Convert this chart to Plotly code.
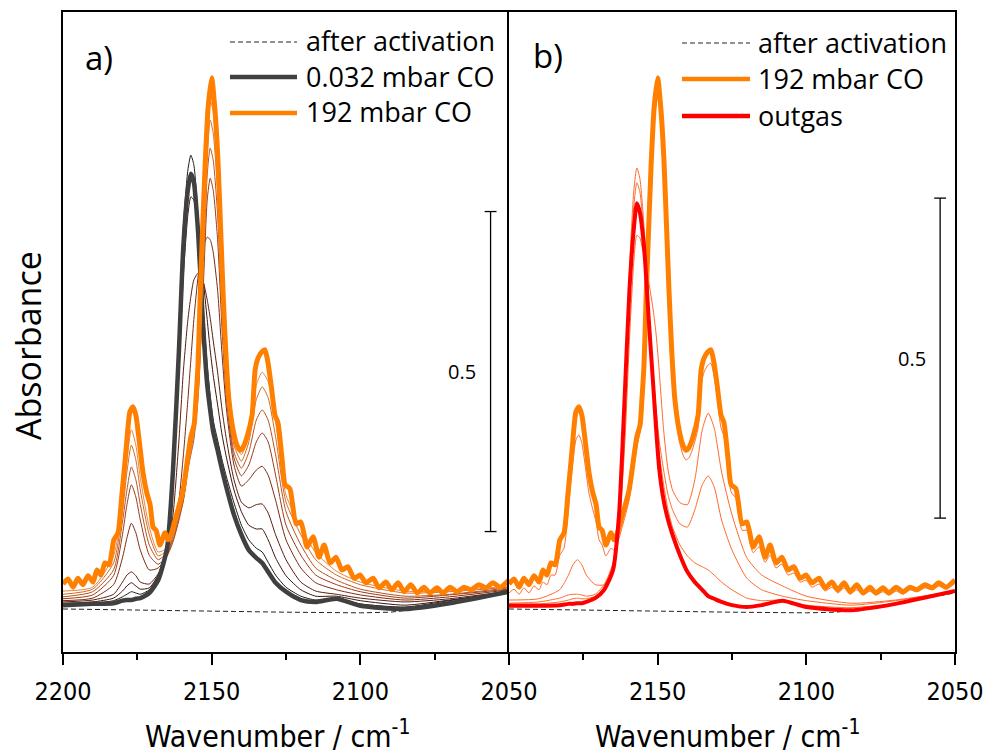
import plotly.graph_objects as go

# ---------------- data (absorbance) ----------------
# fine wavenumber grid for the 192 mbar spectrum (keeps the gas-phase CO rotational wiggles)
W_O = [2200.0, 2198.3, 2196.6, 2195.0, 2193.3, 2191.6, 2189.9, 2188.6, 2187.2, 2185.9,
       2184.5, 2182.9, 2181.5, 2180.2, 2178.8, 2177.5, 2176.5, 2175.5, 2174.4, 2173.1,
       2171.8, 2170.7, 2169.7, 2168.7, 2167.4, 2165.7, 2164.7, 2163.7, 2162.0, 2159.6,
       2158.0, 2157.0, 2155.9, 2155.3, 2154.6, 2153.9, 2153.3, 2152.2, 2151.2, 2150.0,
       2148.9, 2147.9, 2146.9, 2146.2, 2145.2, 2144.2, 2142.8, 2141.5, 2140.5, 2139.5,
       2138.1, 2136.4, 2135.4, 2134.4, 2133.1, 2132.1, 2131.1, 2130.0, 2128.7, 2127.7,
       2126.3, 2125.3, 2123.7, 2121.6, 2120.0, 2117.9, 2115.9, 2113.9, 2112.2, 2110.2,
       2108.2, 2106.2, 2104.2, 2102.1, 2100.1, 2098.1, 2095.7, 2093.7, 2091.4, 2089.4,
       2087.3, 2085.3, 2083.0, 2080.9, 2078.6, 2076.6, 2074.2, 2072.2, 2069.8, 2067.5,
       2065.1, 2062.8, 2060.1, 2057.7, 2055.4, 2053.0, 2050.3, 2050.0]

CO_192 = [0.039, 0.047, 0.034, 0.048, 0.038, 0.052, 0.042, 0.061, 0.053, 0.072,
          0.069, 0.108, 0.119, 0.178, 0.248, 0.308, 0.316, 0.303, 0.264, 0.213,
          0.181, 0.163, 0.128, 0.123, 0.100, 0.119, 0.108, 0.116, 0.144, 0.186,
          0.238, 0.269, 0.288, 0.327, 0.381, 0.483, 0.561, 0.694, 0.783, 0.830,
          0.780, 0.702, 0.584, 0.498, 0.397, 0.327, 0.280, 0.256, 0.248, 0.252,
          0.269, 0.303, 0.373, 0.392, 0.402, 0.405, 0.386, 0.350, 0.303, 0.291,
          0.233, 0.194, 0.188, 0.133, 0.136, 0.097, 0.113, 0.081, 0.100, 0.072,
          0.081, 0.061, 0.066, 0.048, 0.053, 0.041, 0.048, 0.033, 0.042, 0.030,
          0.041, 0.027, 0.038, 0.025, 0.034, 0.025, 0.033, 0.025, 0.034, 0.027,
          0.034, 0.030, 0.038, 0.033, 0.041, 0.034, 0.044, 0.045]

OUTGAS_1 = [0.025, 0.031, 0.023, 0.033, 0.025, 0.036, 0.030, 0.042, 0.038, 0.053,
            0.053, 0.084, 0.095, 0.147, 0.217, 0.264, 0.272, 0.259, 0.225, 0.181,
            0.155, 0.136, 0.108, 0.100, 0.083, 0.095, 0.092, 0.100, 0.127, 0.170,
            0.222, 0.253, 0.277, 0.311, 0.366, 0.459, 0.538, 0.663, 0.756, 0.803,
            0.764, 0.683, 0.569, 0.483, 0.381, 0.311, 0.264, 0.241, 0.233, 0.236,
            0.252, 0.283, 0.350, 0.370, 0.381, 0.384, 0.366, 0.331, 0.283, 0.270,
            0.217, 0.183, 0.173, 0.123, 0.123, 0.088, 0.097, 0.073, 0.084, 0.064,
            0.070, 0.053, 0.056, 0.042, 0.045, 0.034, 0.039, 0.028, 0.034, 0.025,
            0.033, 0.023, 0.030, 0.022, 0.028, 0.022, 0.027, 0.022, 0.028, 0.023,
            0.030, 0.027, 0.033, 0.030, 0.036, 0.031, 0.039, 0.040]

# coarser grid for the smooth spectra
W_S = [2200, 2190, 2183, 2180, 2178.5, 2177, 2175.5, 2174, 2171, 2168,
       2165, 2163, 2161, 2159.5, 2158, 2157, 2156, 2154.5, 2153, 2151.5,
       2150.5, 2149.5, 2148, 2146.5, 2145, 2142.5, 2140, 2137.5, 2135, 2133,
       2131, 2128.5, 2125, 2120, 2115, 2108, 2100, 2085, 2070, 2050]

CO_0032 = [0.006, 0.008, 0.009, 0.013, 0.014, 0.014, 0.016, 0.017, 0.025, 0.045,
           0.095, 0.217, 0.405, 0.569, 0.655, 0.680, 0.667, 0.584, 0.452, 0.350,
           0.311, 0.277, 0.248, 0.217, 0.189, 0.147, 0.116, 0.092, 0.080, 0.072,
           0.058, 0.041, 0.027, 0.014, 0.011, 0.016, 0.005, 0.000, 0.009, 0.027]

DOSE_1 = [0.008, 0.009, 0.013, 0.019, 0.023, 0.027, 0.025, 0.023, 0.030, 0.052,
          0.103, 0.225, 0.428, 0.600, 0.686, 0.709, 0.694, 0.608, 0.483, 0.381,
          0.334, 0.295, 0.264, 0.233, 0.206, 0.166, 0.131, 0.108, 0.095, 0.089,
          0.073, 0.053, 0.034, 0.020, 0.014, 0.017, 0.008, 0.003, 0.013, 0.027]
DOSE_2 = [0.009, 0.011, 0.017, 0.028, 0.036, 0.041, 0.036, 0.031, 0.033, 0.053,
          0.100, 0.202, 0.373, 0.522, 0.616, 0.644, 0.639, 0.592, 0.522, 0.452,
          0.405, 0.366, 0.319, 0.272, 0.236, 0.186, 0.152, 0.131, 0.125, 0.125,
          0.108, 0.080, 0.052, 0.030, 0.020, 0.020, 0.013, 0.006, 0.014, 0.027]
DOSE_3 = [0.011, 0.014, 0.023, 0.042, 0.053, 0.058, 0.052, 0.042, 0.039, 0.055,
          0.089, 0.147, 0.264, 0.373, 0.452, 0.488, 0.514, 0.525, 0.514, 0.483,
          0.455, 0.420, 0.370, 0.311, 0.264, 0.202, 0.167, 0.158, 0.163, 0.164,
          0.150, 0.116, 0.077, 0.042, 0.028, 0.023, 0.017, 0.011, 0.016, 0.028]
DOSE_4 = [0.013, 0.017, 0.038, 0.080, 0.111, 0.134, 0.119, 0.092, 0.061, 0.064,
          0.084, 0.116, 0.170, 0.241, 0.327, 0.389, 0.452, 0.522, 0.564, 0.581,
          0.577, 0.558, 0.498, 0.397, 0.311, 0.225, 0.192, 0.202, 0.217, 0.223,
          0.209, 0.170, 0.108, 0.064, 0.041, 0.030, 0.022, 0.014, 0.019, 0.030]
DOSE_5 = [0.016, 0.022, 0.052, 0.116, 0.163, 0.194, 0.175, 0.139, 0.084, 0.070,
          0.083, 0.105, 0.139, 0.170, 0.220, 0.252, 0.288, 0.350, 0.483, 0.639,
          0.673, 0.655, 0.577, 0.436, 0.327, 0.236, 0.208, 0.225, 0.261, 0.275,
          0.261, 0.209, 0.131, 0.084, 0.053, 0.038, 0.027, 0.017, 0.022, 0.031]
DOSE_6 = [0.019, 0.027, 0.061, 0.136, 0.186, 0.222, 0.202, 0.163, 0.100, 0.077,
          0.088, 0.108, 0.144, 0.170, 0.217, 0.241, 0.264, 0.334, 0.498, 0.678,
          0.720, 0.702, 0.616, 0.459, 0.339, 0.245, 0.220, 0.245, 0.295, 0.311,
          0.295, 0.241, 0.152, 0.100, 0.064, 0.045, 0.031, 0.020, 0.023, 0.033]
DOSE_7 = [0.023, 0.031, 0.072, 0.152, 0.214, 0.256, 0.233, 0.186, 0.116, 0.083,
          0.092, 0.113, 0.147, 0.175, 0.222, 0.248, 0.272, 0.342, 0.514, 0.709,
          0.764, 0.744, 0.655, 0.483, 0.355, 0.256, 0.231, 0.261, 0.327, 0.347,
          0.330, 0.269, 0.167, 0.116, 0.077, 0.053, 0.038, 0.025, 0.027, 0.034]
DOSE_8 = [0.028, 0.034, 0.083, 0.163, 0.233, 0.280, 0.256, 0.205, 0.128, 0.089,
          0.095, 0.116, 0.152, 0.178, 0.230, 0.256, 0.280, 0.358, 0.545, 0.748,
          0.795, 0.777, 0.686, 0.506, 0.370, 0.264, 0.241, 0.272, 0.350, 0.370,
          0.355, 0.292, 0.178, 0.128, 0.088, 0.059, 0.042, 0.028, 0.028, 0.036]

OUTGAS_2 = [0.014, 0.016, 0.030, 0.053, 0.069, 0.077, 0.069, 0.053, 0.038, 0.038,
            0.061, 0.123, 0.264, 0.420, 0.545, 0.584, 0.580, 0.548, 0.511, 0.467,
            0.428, 0.373, 0.280, 0.217, 0.186, 0.166, 0.163, 0.202, 0.280, 0.306,
            0.283, 0.214, 0.147, 0.080, 0.053, 0.036, 0.020, 0.009, 0.014, 0.028]
OUTGAS_3 = [0.009, 0.011, 0.017, 0.022, 0.023, 0.023, 0.022, 0.020, 0.023, 0.038,
            0.072, 0.147, 0.327, 0.506, 0.631, 0.666, 0.652, 0.577, 0.467, 0.366,
            0.311, 0.264, 0.217, 0.178, 0.155, 0.133, 0.128, 0.155, 0.194, 0.208,
            0.191, 0.139, 0.092, 0.048, 0.030, 0.020, 0.013, 0.006, 0.013, 0.028]
OUTGAS_4 = [0.008, 0.008, 0.011, 0.014, 0.016, 0.017, 0.016, 0.016, 0.020, 0.034,
            0.069, 0.147, 0.334, 0.530, 0.655, 0.689, 0.673, 0.592, 0.475, 0.366,
            0.303, 0.245, 0.194, 0.155, 0.128, 0.100, 0.083, 0.072, 0.066, 0.061,
            0.053, 0.042, 0.030, 0.017, 0.013, 0.014, 0.006, 0.002, 0.009, 0.028]
OUTGAS_FINAL = [0.005, 0.005, 0.006, 0.008, 0.008, 0.009, 0.009, 0.011, 0.017, 0.030,
                0.061, 0.147, 0.342, 0.498, 0.595, 0.634, 0.620, 0.561, 0.452, 0.350,
                0.280, 0.220, 0.170, 0.139, 0.116, 0.084, 0.058, 0.042, 0.030, 0.020,
                0.016, 0.011, 0.006, 0.003, 0.006, 0.013, 0.003, -0.002, 0.008, 0.028]

W_D = [2200, 2175, 2150, 2125, 2100, 2090, 2080, 2070, 2060, 2050]
AFTER_ACTIVATION = [0.000, -0.002, -0.003, -0.005, -0.006, -0.005, 0.000, 0.008, 0.016, 0.025]

X_TICKS_A = [2200, 2150, 2100, 2050]
X_TICKS_B = [2150, 2100, 2050]
X_MINOR = [2175, 2125, 2075]
LEGEND_A = ["after activation", "0.032 mbar CO", "192 mbar CO"]
LEGEND_B = ["after activation", "192 mbar CO", "outgas"]
SCALE_VALUE = 0.5
SCALE_A = (2056.2, 0.121)   # (wavenumber, bottom absorbance) of the 0.5 bar, panel a
SCALE_B = (2055.0, 0.142)   # panel b

# ---------------- styles ----------------
DOSES = [DOSE_1, DOSE_2, DOSE_3, DOSE_4, DOSE_5, DOSE_6, DOSE_7, DOSE_8]
DOSE_COLORS = ['#1a1a1a', '#3d1208', '#5c1c0c', '#7c2a10', '#9a3c16', '#b8521e', '#d26a28', '#e8843a']
ORANGE = '#ff8000'
DARK = '#404040'
RED = '#ff0000'
THIN_B = '#ff6a2a'
DASH_C = '#222222'
DASH = '5px,3px'

SANS = "Open Sans, Segoe UI, Arial, sans-serif"
NARROW = "Liberation Sans Narrow, Arial Narrow, DejaVu Sans Condensed, sans-serif"

W, H = 995, 755
PA = (63, 509)
PB = (509, 955)
TOP, BOT = 12, 652
YR = [-0.0672, 0.9328]

fig = go.Figure()


def line(x, y, ax, color, width, dash=None, shape='spline'):
    fig.add_trace(go.Scatter(
        x=x, y=y, mode='lines', xaxis='x' if ax == 1 else 'x2', yaxis='y' if ax == 1 else 'y2',
        line=dict(color=color, width=width, dash=dash, shape=shape, smoothing=0.6),
        showlegend=False, hoverinfo='skip'))


# panel a
line(W_D, AFTER_ACTIVATION, 1, DASH_C, 1, dash=DASH, shape='linear')
for ys, c in zip(DOSES, DOSE_COLORS):
    line(W_S, ys, 1, c, 1)
line(W_S, CO_0032, 1, DARK, 4.5)
line(W_O, CO_192, 1, ORANGE, 5)

# panel b
line(W_D, AFTER_ACTIVATION, 2, DASH_C, 1, dash=DASH, shape='linear')
line(W_O, OUTGAS_1, 2, THIN_B, 1)
for ys in (OUTGAS_2, OUTGAS_3, OUTGAS_4):
    line(W_S, ys, 2, THIN_B, 1)
line(W_O, CO_192, 2, ORANGE, 5)
line(W_S, OUTGAS_FINAL, 2, RED, 4)

shapes = []
annotations = []

# scale bars
for (sx, sy), xr, yr in ((SCALE_A, 'x', 'y'), (SCALE_B, 'x2', 'y2')):
    top = sy + SCALE_VALUE
    shapes.append(dict(type='line', xref=xr, yref=yr, x0=sx, x1=sx, y0=sy, y1=top,
                       line=dict(color='black', width=1.3)))
    for yy in (sy, top):
        shapes.append(dict(type='line', xref=xr, yref=yr, x0=sx + 2, x1=sx - 2, y0=yy, y1=yy,
                           line=dict(color='black', width=1.3)))
    annotations.append(dict(xref=xr, yref=yr, x=sx + 9.5, y=sy + SCALE_VALUE / 2, text=str(SCALE_VALUE),
                            showarrow=False, xanchor='center', yanchor='middle',
                            font=dict(family=SANS, size=20, color='black')))


def px(x):
    return x / W


def py(y):
    return 1 - y / H


# legends (drawn by hand, like the original)
leg_a_y = [42, 77, 113]
leg_b_y = [43, 79, 116]
styles_a = [dict(color=DASH_C, width=1, dash=DASH), dict(color=DARK, width=4.5), dict(color=ORANGE, width=4.5)]
styles_b = [dict(color=DASH_C, width=1, dash=DASH), dict(color=ORANGE, width=4.5), dict(color=RED, width=4.5)]
for labels, ys, sts, x0, x1, xt in ((LEGEND_A, leg_a_y, styles_a, 230, 297, 304),
                                    (LEGEND_B, leg_b_y, styles_b, 682, 750, 756)):
    for lab, yy, st in zip(labels, ys, sts):
        shapes.append(dict(type='line', xref='paper', yref='paper', x0=px(x0), x1=px(x1),
                           y0=py(yy), y1=py(yy), line=st))
        annotations.append(dict(xref='paper', yref='paper', x=px(xt), y=py(yy - 1), text=lab,
                                showarrow=False, xanchor='left', yanchor='middle',
                                font=dict(family=SANS, size=27, color='black')))

annotations += [
    dict(xref='paper', yref='paper', x=px(99), y=py(58), text='a)', showarrow=False,
         xanchor='center', yanchor='middle', font=dict(family=SANS, size=33, color='black')),
    dict(xref='paper', yref='paper', x=px(548), y=py(56), text='b)', showarrow=False,
         xanchor='center', yanchor='middle', font=dict(family=SANS, size=33, color='black')),
    dict(xref='paper', yref='paper', x=px(28), y=py(346), text='Absorbance', showarrow=False,
         textangle=-90, xanchor='center', yanchor='middle', font=dict(family=SANS, size=34, color='black')),
    dict(xref='paper', yref='paper', x=px(277), y=py(734), text='Wavenumber / cm<sup>-1</sup>', showarrow=False,
         xanchor='center', yanchor='middle', font=dict(family=NARROW, size=30, color='black')),
    dict(xref='paper', yref='paper', x=px(727), y=py(734), text='Wavenumber / cm<sup>-1</sup>', showarrow=False,
         xanchor='center', yanchor='middle', font=dict(family=NARROW, size=30, color='black')),
]


def xaxis(domain, ticks, anchor):
    return dict(domain=domain, range=[2200, 2050], anchor=anchor, showline=True, linecolor='black',
                linewidth=1.6, mirror=True, ticks='outside', ticklen=11, tickwidth=1.5, tickcolor='black',
                tickmode='array', tickvals=ticks, ticktext=[str(v) for v in ticks],
                ticklabelstandoff=5, automargin=False,
                tickfont=dict(family=NARROW, size=25, color='black'),
                minor=dict(tickvals=X_MINOR, ticks='outside', ticklen=6, tickwidth=1.5, tickcolor='black'),
                showgrid=False, zeroline=False, fixedrange=True)


def yaxis(anchor, mirror):
    return dict(domain=[1 - BOT / H, 1 - TOP / H], range=YR, anchor=anchor, showline=True,
                linecolor='black', linewidth=1.6, mirror=mirror, ticks='', showticklabels=False,
                automargin=False, showgrid=False, zeroline=False, fixedrange=True)


fig.update_layout(
    width=W, height=H, margin=dict(l=0, r=0, t=0, b=0, pad=0, autoexpand=False),
    paper_bgcolor='white', plot_bgcolor='white', showlegend=False,
    xaxis=xaxis([PA[0] / W, PA[1] / W], X_TICKS_A, 'y'),
    xaxis2=xaxis([PB[0] / W, PB[1] / W], X_TICKS_B, 'y2'),
    yaxis=yaxis('x', False), yaxis2=yaxis('x2', True),
    shapes=shapes, annotations=annotations,
)

fig.write_html("out.html", config={'displayModeBar': False},
               post_script="document.body.style.margin='0';document.body.style.overflow='hidden';")
